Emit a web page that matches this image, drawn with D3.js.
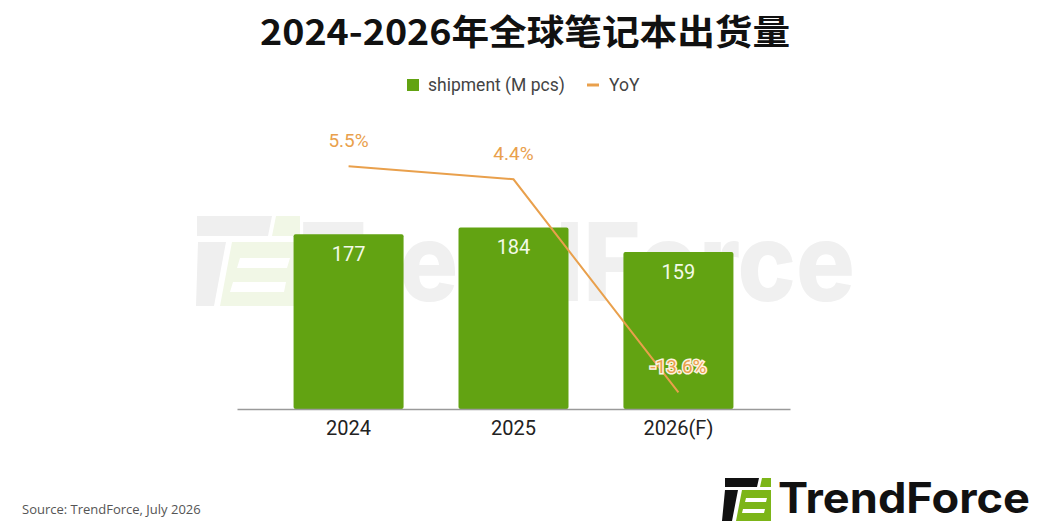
<!DOCTYPE html>
<html>
<head>
<meta charset="utf-8">
<script src="https://cdn.jsdelivr.net/npm/d3@7"></script>
<style>
  body { margin: 0; background: #fff; }
  svg { display: block; }
</style>
</head>
<body>
<div id="chart"></div>
<script>
const years = ['2024', '2025', '2026(F)'];
const shipment = [177, 184, 159];
const yoy = [5.5, 4.4, -13.6];
const shipmentTicks = [0, 300];
const yoyTicks = [-15, 10];

const W = 1050, H = 526;
const green = '#62a312';
const orange = '#e9a04c';

const svg = d3.select('#chart').append('svg')
  .attr('width', W).attr('height', H)
  .style('font-family', 'Roboto, "Liberation Sans", sans-serif');

// watermark
const wm = svg.append('g').attr('class', 'watermark');
wm.append('path')
  .attr('d', 'M197,216 L272,216 L268,236 L197,236 Z M198,242 L226,242 L214,306 L196,306 Z')
  .style('fill', '#efefef');
wm.append('path')
  .attr('d', 'M276,216 L300,216 L300,236 L272,236 Z M232,242 L300,242 L300,306 L220,306 Z')
  .style('fill', '#f1f7e6');
wm.append('path')
  .attr('d', 'M240,258 L290,258 L287,268 L237,268 Z M233,282 L286,282 L284,292 L230,292 Z')
  .style('fill', '#ffffff');
wm.append('text')
  .attr('x', 300).attr('y', 301)
  .style('font-family', 'Inter, sans-serif')
  .style('font-weight', 800)
  .style('font-size', '108px')
  .style('fill', '#f0f0f0')
  .attr('textLength', 555)
  .attr('lengthAdjust', 'spacingAndGlyphs')
  .text('TrendForce');

// scales
const x = d3.scaleBand()
  .domain(years)
  .range([237, 790])
  .paddingInner(0.333)
  .paddingOuter(0.343);

const y = d3.scaleLinear().domain(shipmentTicks).range([409, 113]);
const y2 = d3.scaleLinear().domain(yoyTicks).range([409, 113]);

// bars
svg.selectAll('.bar')
  .data(shipment)
  .enter()
  .append('rect')
  .attr('class', 'bar')
  .attr('x', (d, i) => x(years[i]))
  .attr('y', d => y(d))
  .attr('width', x.bandwidth())
  .attr('height', d => y(0) - y(d))
  .attr('rx', 2)
  .style('fill', green);

svg.selectAll('.bar-label')
  .data(shipment)
  .enter()
  .append('text')
  .attr('class', 'bar-label')
  .attr('x', (d, i) => x(years[i]) + x.bandwidth() / 2)
  .attr('y', d => y(d) + 27)
  .style('text-anchor', 'middle')
  .style('font-size', '20px')
  .style('fill', '#f3fae8')
  .text(d => d);

// x axis
const xAxis = svg.append('g')
  .attr('class', 'x-axis')
  .attr('transform', 'translate(0,409)')
  .call(d3.axisBottom(x).tickSize(0).tickSizeOuter(0).tickPadding(12));
xAxis.select('.domain').style('stroke', '#9a9a9a').style('stroke-width', 1.5);
xAxis.selectAll('text')
  .style('font-family', 'Roboto, "Liberation Sans", sans-serif')
  .style('font-size', '20px')
  .style('fill', '#222');

// yoy line
const line = d3.line()
  .x((d, i) => x(years[i]) + x.bandwidth() / 2)
  .y(d => y2(d));

svg.append('path')
  .datum(yoy)
  .attr('d', line)
  .style('fill', 'none')
  .style('stroke', orange)
  .style('stroke-width', 2);

svg.selectAll('.yoy-label')
  .data(yoy)
  .enter()
  .append('text')
  .attr('class', 'yoy-label')
  .attr('x', (d, i) => x(years[i]) + x.bandwidth() / 2)
  .attr('y', d => y2(d) - 19)
  .style('text-anchor', 'middle')
  .style('font-size', '19px')
  .style('fill', orange)
  .style('stroke', d => d < 0 ? '#fff3e0' : 'none')
  .style('stroke-width', 3)
  .style('paint-order', 'stroke')
  .text(d => d.toFixed(1) + '%');

// title
svg.append('text')
  .attr('x', 525).attr('y', 45)
  .style('text-anchor', 'middle')
  .style('font-family', '"Noto Sans CJK SC", sans-serif')
  .style('font-weight', 700)
  .style('font-size', '35px')
  .style('fill', '#111')
  .attr('textLength', 530)
  .attr('lengthAdjust', 'spacingAndGlyphs')
  .text('2024-2026年全球笔记本出货量');

// legend
const legend = svg.append('g').attr('class', 'legend');
legend.append('rect')
  .attr('x', 407).attr('y', 79).attr('width', 12).attr('height', 12)
  .style('fill', green);
legend.append('text')
  .attr('x', 428).attr('y', 91)
  .style('font-size', '17.5px')
  .style('fill', '#444')
  .text('shipment (M pcs)');
legend.append('line')
  .attr('x1', 587).attr('x2', 599).attr('y1', 85).attr('y2', 85)
  .style('stroke', orange)
  .style('stroke-width', 3);
legend.append('text')
  .attr('x', 609).attr('y', 91)
  .style('font-size', '17.5px')
  .style('fill', '#444')
  .text('YoY');

// source
svg.append('text')
  .attr('x', 22).attr('y', 514)
  .style('font-family', '"Open Sans", sans-serif')
  .style('font-size', '13px')
  .style('fill', '#555')
  .text('Source: TrendForce, July 2026');

// logo
const logo = svg.append('g').attr('class', 'logo');
logo.append('path')
  .attr('d', 'M725,478 L759,478 L757,487 L725,487 Z M725,490 L738,490 L732,521 L722,521 Z')
  .style('fill', '#111');
logo.append('path')
  .attr('d', 'M762,478 L771,478 L771,487 L760,487 Z M742,490 L771,490 L771,521 L736,521 Z')
  .style('fill', '#7cb518');
logo.append('path')
  .attr('d', 'M746,498 L767,498 L766,502 L745,502 Z M743,509 L765,509 L764,513 L742,513 Z')
  .style('fill', '#fff');
logo.append('text')
  .attr('x', 778).attr('y', 513)
  .style('font-family', 'Inter, sans-serif')
  .style('font-weight', 700)
  .style('font-size', '42px')
  .style('fill', '#111')
  .attr('textLength', 252)
  .attr('lengthAdjust', 'spacingAndGlyphs')
  .text('TrendForce');
</script>
</body>
</html>
